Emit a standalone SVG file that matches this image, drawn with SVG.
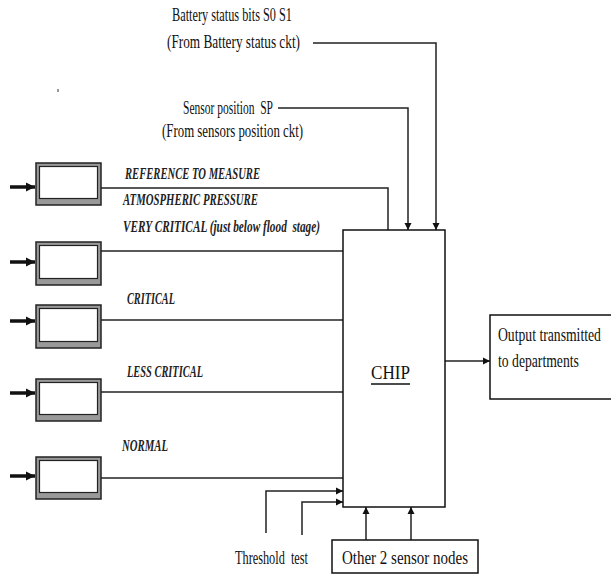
<svg xmlns="http://www.w3.org/2000/svg" width="611" height="586" viewBox="0 0 611 586">
<style>
.lbl{font-family:"Liberation Serif",serif;font-style:italic;font-weight:bold;font-size:17px;fill:#222}
.txt{font-family:"Liberation Serif",serif;font-size:19px;fill:#111}
.ln{stroke:#222;stroke-width:1.5;fill:none}
.in{stroke:#111;stroke-width:3.5;fill:none}
.outer{fill:#999;stroke:#222;stroke-width:1.5}
.inner{fill:#fff;stroke:#222;stroke-width:1.2}
.box{fill:#fff;stroke:#111;stroke-width:1.5}
</style>
<defs>
<marker id="ah" viewBox="0 0 10 10" refX="10" refY="5" markerWidth="7" markerHeight="8" markerUnits="userSpaceOnUse" orient="auto"><path d="M0,0 L10,5 L0,10 z" fill="#111"/></marker>
<marker id="ahb" viewBox="0 0 10 10" refX="10" refY="5" markerWidth="9" markerHeight="11" markerUnits="userSpaceOnUse" orient="auto"><path d="M0,0 L10,5 L0,10 z" fill="#111"/></marker>
</defs>
<rect width="611" height="586" fill="#fff"/>
<rect x="57.5" y="89" width="1" height="3" fill="#333"/>
<g id="connectors">
<path class="in" d="M10,187 H35" marker-end="url(#ahb)"/>
<path class="in" d="M10,262 H35" marker-end="url(#ahb)"/>
<path class="in" d="M10,321 H35" marker-end="url(#ahb)"/>
<path class="in" d="M10,393 H35" marker-end="url(#ahb)"/>
<path class="in" d="M10,476 H35" marker-end="url(#ahb)"/>
<path class="ln" d="M101,188 H388 V230"/>
<path class="ln" d="M101,251 H343"/>
<path class="ln" d="M101,320 H343"/>
<path class="ln" d="M101,392 H343"/>
<path class="ln" d="M101,478 H343"/>
<path class="ln" d="M313,43 H436 V230" marker-end="url(#ah)"/>
<path class="ln" d="M278,108 H408 V230" marker-end="url(#ah)"/>
<path class="ln" d="M266,533 V491 H343" marker-end="url(#ah)"/>
<path class="ln" d="M302,535 V502 H343" marker-end="url(#ah)"/>
<path class="ln" d="M366,540 V507" marker-end="url(#ah)"/>
<path class="ln" d="M411,540 V507" marker-end="url(#ah)"/>
<path class="ln" d="M445,361 H490" marker-end="url(#ah)"/>
</g>
<g id="sensor1"><rect class="outer" x="36" y="163" width="65" height="42"/><rect class="inner" x="39.5" y="166.5" width="58" height="32"/></g>
<g id="sensor2"><rect class="outer" x="36" y="242" width="65" height="43"/><rect class="inner" x="39.5" y="245.5" width="58" height="33"/></g>
<g id="sensor3"><rect class="outer" x="36" y="305" width="65" height="43"/><rect class="inner" x="39.5" y="308.5" width="58" height="33"/></g>
<g id="sensor4"><rect class="outer" x="36" y="379" width="65" height="42"/><rect class="inner" x="39.5" y="382.5" width="58" height="32"/></g>
<g id="sensor5"><rect class="outer" x="36" y="457" width="65" height="42"/><rect class="inner" x="39.5" y="460.5" width="58" height="32"/></g>
<g id="chip">
<rect class="box" x="343" y="230" width="102" height="277"/>
<text class="txt" x="371" y="379" font-size="30" textLength="39" lengthAdjust="spacingAndGlyphs">CHIP</text>
<line x1="371" y1="384" x2="410" y2="384" stroke="#111" stroke-width="1.3"/>
</g>
<g id="output">
<rect class="box" x="490" y="315" width="130" height="84"/>
<text class="txt" transform="translate(498,341) scale(0.72,1)">Output transmitted</text>
<text class="txt" transform="translate(498,367) scale(0.72,1)">to departments</text>
</g>
<g id="others">
<rect class="box" x="332" y="540" width="146" height="33"/>
<text class="txt" x="342" y="564" textLength="126" lengthAdjust="spacingAndGlyphs">Other 2 sensor nodes</text>
</g>
<g id="labels">
<text class="lbl" x="125" y="179" textLength="135" lengthAdjust="spacingAndGlyphs">REFERENCE TO MEASURE</text>
<text class="lbl" x="123" y="205" textLength="135" lengthAdjust="spacingAndGlyphs">ATMOSPHERIC PRESSURE</text>
<text class="lbl" x="123" y="232" textLength="197" lengthAdjust="spacingAndGlyphs" xml:space="preserve">VERY CRITICAL (just below flood  stage)</text>
<text class="lbl" x="127" y="304" textLength="48" lengthAdjust="spacingAndGlyphs">CRITICAL</text>
<text class="lbl" x="127" y="377" textLength="76" lengthAdjust="spacingAndGlyphs">LESS CRITICAL</text>
<text class="lbl" x="122" y="451" textLength="46" lengthAdjust="spacingAndGlyphs">NORMAL</text>
<text class="txt" x="172" y="21" textLength="120" lengthAdjust="spacingAndGlyphs">Battery status bits S0 S1</text>
<text class="txt" x="167" y="48" textLength="133" lengthAdjust="spacingAndGlyphs">(From Battery status ckt)</text>
<text class="txt" x="183" y="114" textLength="90" lengthAdjust="spacingAndGlyphs" xml:space="preserve">Sensor position  SP</text>
<text class="txt" x="162" y="137" textLength="141" lengthAdjust="spacingAndGlyphs">(From sensors position ckt)</text>
<text class="txt" x="235" y="564" textLength="73" lengthAdjust="spacingAndGlyphs" xml:space="preserve">Threshold  test</text>
</g>
</svg>
